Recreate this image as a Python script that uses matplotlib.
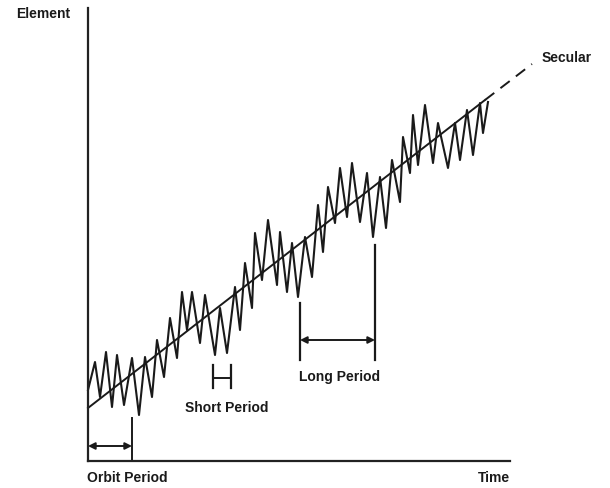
import matplotlib.pyplot as plt
import numpy as np

# zigzag perturbed element (time, element)
time = [0, 7, 12, 18, 24, 29, 36, 44, 51, 57, 64, 69, 76, 82, 89, 94, 99, 104,
        112, 117, 127, 132, 139, 147, 152, 157, 164, 167, 174, 180, 189, 192,
        199, 204, 210, 217, 224, 230, 235, 240, 247, 252, 259, 264, 272, 279,
        285, 292, 298, 304, 312, 315, 322, 325, 330, 337, 345, 350, 360, 367,
        372, 379, 385, 392, 395, 400]
element = [71, 99, 64, 109, 54, 106, 56, 103, 46, 104, 64, 121, 84, 143, 103,
           169, 131, 169, 118, 166, 106, 153, 108, 174, 131, 198, 153, 228, 181,
           241, 176, 229, 169, 218, 164, 224, 184, 256, 209, 274, 238, 293, 244,
           298, 239, 288, 224, 284, 233, 301, 259, 324, 288, 346, 296, 356, 298,
           338, 293, 338, 301, 351, 306, 358, 328, 359]

# secular trend
secular_t = [0, 397]
secular_e = [53, 361]
secular_ext_t = [397, 444]
secular_ext_e = [361, 397]

# period markers
orbit_period = (0, 44)
short_period = (125, 143)
long_period = (212, 287)

fig = plt.figure(figsize=(6.1, 4.88), dpi=100)
ax = fig.add_axes([88 / 610, 27 / 488, 422 / 610, 453 / 488])
ax.set_xlim(0, 422)
ax.set_ylim(0, 453)
for s in ['top', 'right']:
    ax.spines[s].set_visible(False)
for s in ['left', 'bottom']:
    ax.spines[s].set_linewidth(1.6)
    ax.spines[s].set_color('#222222')
ax.set_xticks([])
ax.set_yticks([])

ink = '#1a1a1a'
ax.plot(time, element, color=ink, lw=1.5, clip_on=False)
ax.plot(secular_t, secular_e, color=ink, lw=1.4, clip_on=False)
ax.plot(secular_ext_t, secular_ext_e, color=ink, lw=1.4, ls=(0, (6, 4)),
        clip_on=False)

arrow = dict(arrowstyle='<|-|>', color=ink, lw=1.4, mutation_scale=10,
             shrinkA=0, shrinkB=0)

# orbit period
ax.plot([orbit_period[1]] * 2, [0, 43], color=ink, lw=1.4)
ax.annotate('', xy=(orbit_period[0], 15), xytext=(orbit_period[1], 15),
            arrowprops=arrow)

# short period bracket
for t in short_period:
    ax.plot([t, t], [73, 96], color=ink, lw=1.6)
ax.plot(short_period, [83, 83], color=ink, lw=1.4)

# long period
ax.plot([long_period[0]] * 2, [101, 158], color=ink, lw=1.6)
ax.plot([long_period[1]] * 2, [101, 216], color=ink, lw=1.6)
ax.annotate('', xy=(long_period[0], 121), xytext=(long_period[1], 121),
            arrowprops=arrow)

font = dict(family='Liberation Sans', fontsize=10, fontweight='bold',
            color=ink, ha='center', va='center', clip_on=False)
ax.text(-45, 447, 'Element', **font)
ax.text(406, -17, 'Time', **font)
ax.text(39, -17, 'Orbit Period', **font)
ax.text(139, 53, 'Short Period', **font)
ax.text(252, 84, 'Long Period', **font)
ax.text(479, 403, 'Secular', **font)

plt.savefig('out.png', dpi=100)
plt.close()
